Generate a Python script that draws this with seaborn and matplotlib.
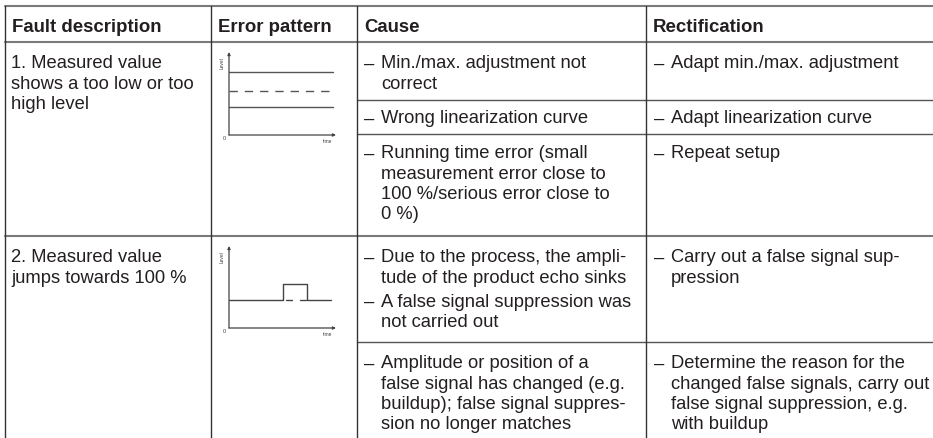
import matplotlib
matplotlib.use('Agg')
import matplotlib.pyplot as plt
import pandas as pd
import seaborn as sns

# Table text
HEADERS = ['Fault description', 'Error pattern', 'Cause', 'Rectification']
FAULTS = [
    ['1. Measured value', 'shows a too low or too', 'high level'],
    ['2. Measured value', 'jumps towards 100 %'],
]
CAUSES = [
    [['Min./max. adjustment not', 'correct']],
    [['Wrong linearization curve']],
    [['Running time error (small', 'measurement error close to', '100 %/serious error close to', '0 %)']],
    [['Due to the process, the ampli-', 'tude of the product echo sinks'],
     ['A false signal suppression was', 'not carried out']],
    [['Amplitude or position of a', 'false signal has changed (e.g.',
      'buildup); false signal suppres-', 'sion no longer matches']],
]
RECTIFICATIONS = [
    ['Adapt min./max. adjustment'],
    ['Adapt linearization curve'],
    ['Repeat setup'],
    ['Carry out a false signal sup-', 'pression'],
    ['Determine the reason for the', 'changed false signals, carry out',
     'false signal suppression, e.g.', 'with buildup'],
]

# Error pattern sketches (time 0-100, level 0-100)
LEVEL_TIME = [0, 97]
LEVEL_TOO_HIGH = [76, 76]
LEVEL_TRUE = [53, 53]
LEVEL_TOO_LOW = [34, 34]
JUMP_TIME = [0, 50, 50, 73, 73, 95]
JUMP_LEVEL = [34, 34, 54, 54, 34, 34]
GAP_A_TIME = [53, 59]
GAP_B_TIME = [66, 72]
GAP_LEVEL = [34, 34]

# Layout (pixels)
W, H = 933, 439
TOP, HEAD = 7, 43
ROW_TOPS = [43, 101, 135, 237, 343]   # cause sub-rows
FIRST_BASE = [68.5, 123.5, 158.5, 262.5, 368.5]
FAULT_BASE = [68.5, 262.5]
COL_X = [5, 211, 357, 646]
LINE_GAP = 20.3
TEXT_COLOR = '#231f20'
RULE_COLOR = '#7a7a7a'
FONT = ['Liberation Sans', 'DejaVu Sans']
FS = 13.2
FS_HEAD = 13.4

sns.set_theme(style='white')
plt.rcParams['font.family'] = FONT

fig = plt.figure(figsize=(W / 100, H / 100), dpi=100)
ax = fig.add_axes([0, 0, 1, 1])
ax.set_xlim(0, W)
ax.set_ylim(H, 0)
ax.axis('off')

# grid
for y in [TOP, HEAD, ROW_TOPS[3]]:
    ax.plot([COL_X[0], W], [y, y], color=RULE_COLOR, lw=1.5)
for y in [ROW_TOPS[1], ROW_TOPS[2], ROW_TOPS[4]]:
    ax.plot([COL_X[2], W], [y, y], color='#555555', lw=1.0)
for x in COL_X:
    ax.plot([x, x], [TOP, H], color='#333333', lw=1.0)

# header
for x, label in zip(COL_X, HEADERS):
    ax.text(x + 7, 31.5, label, fontsize=FS_HEAD, fontweight='bold', color=TEXT_COLOR, va='baseline')


def put_lines(x, y0, lines):
    for i, line in enumerate(lines):
        ax.text(x, y0 + i * LINE_GAP, line, fontsize=FS, color=TEXT_COLOR, va='baseline')


def put_item(x, y0, lines):
    ax.text(x, y0, '\u2013', fontsize=FS, color=TEXT_COLOR, va='baseline')
    put_lines(x + 17, y0, lines)


for y0, lines in zip(FAULT_BASE, FAULTS):
    put_lines(COL_X[0] + 6, y0, lines)

for y0, items, rect in zip(FIRST_BASE, CAUSES, RECTIFICATIONS):
    y = y0
    for item in items:
        put_item(COL_X[2] + 7, y, item)
        y += len(item) * LINE_GAP + 4
    put_item(COL_X[3] + 8, y0, rect)


def sketch(left, bottom, top):
    iax = fig.add_axes([left / W, 1 - bottom / H, 107 / W, (bottom - top) / H])
    iax.set_xlim(0, 100)
    iax.set_ylim(0, 100)
    iax.axis('off')
    arrow = dict(arrowstyle='-|>', color='#444444', lw=0.9, mutation_scale=4, shrinkA=0, shrinkB=0)
    iax.annotate('', xy=(1.0, 0), xytext=(0, 0), xycoords='axes fraction', arrowprops=arrow)
    iax.annotate('', xy=(0, 1.0), xytext=(0, 0), xycoords='axes fraction', arrowprops=arrow)
    iax.text(-0.03, 0, '0', transform=iax.transAxes, fontsize=4, color='#444444', ha='right', va='top')
    iax.text(0.92, -0.04, 'time', transform=iax.transAxes, fontsize=3.5, color='#444444', ha='center', va='top')
    iax.text(-0.06, 0.88, 'Level', transform=iax.transAxes, fontsize=3.5, color='#444444',
             rotation=90, ha='center', va='center')
    return iax


ax1 = sketch(229, 136, 53)
for levels, style in [(LEVEL_TOO_HIGH, '-'), (LEVEL_TRUE, '--'), (LEVEL_TOO_LOW, '-')]:
    df = pd.DataFrame({'time': LEVEL_TIME, 'level': levels})
    sns.lineplot(data=df, x='time', y='level', ax=ax1, color='#555555', lw=1.0,
                 linestyle=style, dashes=False, estimator=None, sort=False)
ax1.lines[-2].set_dashes([6, 5])

ax2 = sketch(229, 329, 247)
df = pd.DataFrame({'time': JUMP_TIME, 'level': JUMP_LEVEL})
sns.lineplot(data=df, x='time', y='level', ax=ax2, color='#444444', lw=1.0, estimator=None, sort=False)
for t in [GAP_A_TIME, GAP_B_TIME]:
    df = pd.DataFrame({'time': t, 'level': GAP_LEVEL})
    sns.lineplot(data=df, x='time', y='level', ax=ax2, color='#444444', lw=1.0, estimator=None, sort=False)
for a in (ax1, ax2):
    a.set_xlim(0, 100)
    a.set_ylim(0, 100)
    a.axis('off')

fig.savefig('out.png', dpi=100)
